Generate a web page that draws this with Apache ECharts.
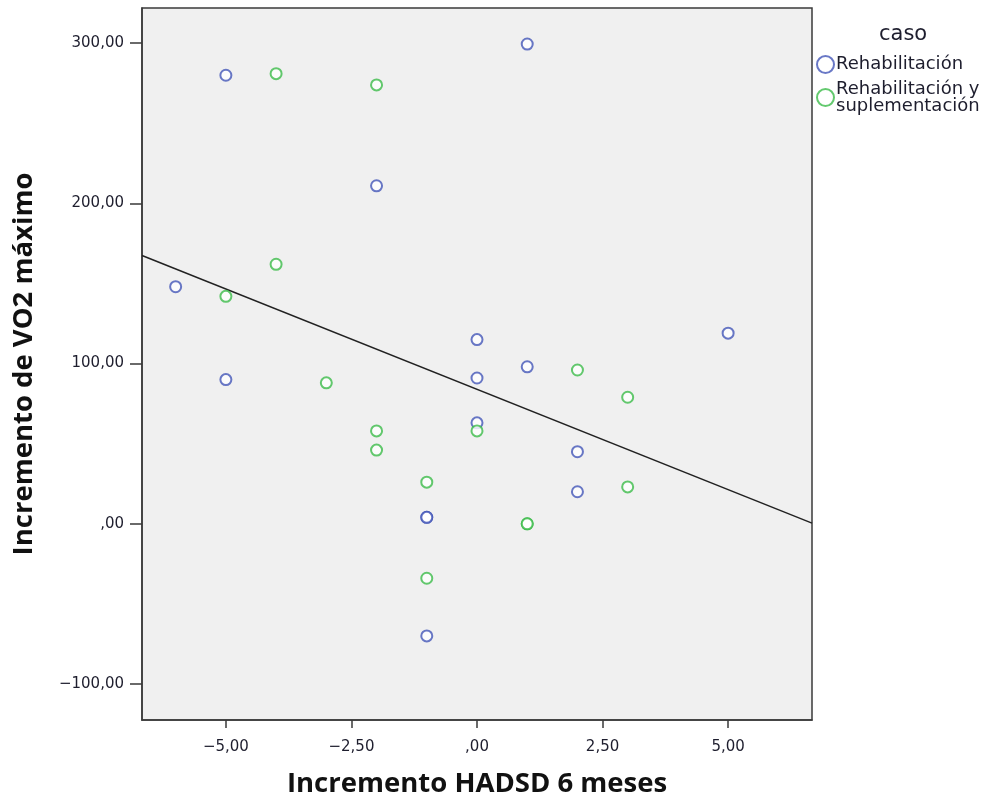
<!DOCTYPE html>
<html>
<head>
<meta charset="utf-8">
<script src="https://cdn.jsdelivr.net/npm/echarts@6/dist/echarts.min.js"></script>
<style>
  html, body { margin: 0; padding: 0; background: #ffffff; }
  #chart { width: 985px; height: 800px; }
</style>
</head>
<body>
<div id="chart"></div>
<script>
// Group labels
const groupRehab = 'Rehabilitación';
const groupRehabSup = 'Rehabilitación y suplementación';

// Incremento HADSD 6 meses (x) / Incremento de VO2 máximo (y)
const rehabX = [-5, 1, -2, -6, -5, 0, 0, 1, 0, 5, 2, 2, -1, -1, -1];
const rehabY = [280, 299.5, 211, 148, 90, 115, 91, 98, 63, 119, 45, 20, 4, 4, -70];

const rehabSupX = [-4, -2, -4, -5, -3, -2, -2, 0, -1, 2, 3, 3, 1, 1, -1];
const rehabSupY = [281, 274, 162, 142, 88, 58, 46, 58, 26, 96, 79, 23, 0, 0, -34];

// Total-sample fit line, end points at the plot edges
const fitX = [-6.67, 6.67];
const fitY = [167.5, 0.4];

// Tick positions
const xTicks = [-5, -2.5, 0, 2.5, 5];
const yTicks = [-100, 0, 100, 200, 300];

const zip = (xs, ys) => xs.map((x, i) => [x, ys[i]]);

// SPSS-style number labels: two decimals, comma separator, no leading zero
function spssFmt(v) {
  const neg = v < 0;
  let s = Math.abs(v).toFixed(2).replace('.', ',');
  if (s.startsWith('0,')) s = s.slice(1);
  return (neg ? '\u2212' : '') + s;
}

const tickFont = { fontFamily: 'DejaVu Sans', fontSize: 15, color: '#1e1e2e' };
const titleFont = { fontFamily: 'Open Sans', fontWeight: 'bold', fontSize: 27.5, color: '#111111' };
const axisColor = '#3a3a3a';

const chart = echarts.init(document.getElementById('chart'), null, { renderer: 'canvas' });

chart.setOption({
  backgroundColor: '#ffffff',
  animation: false,
  grid: {
    left: 142, right: 173, top: 8, bottom: 80,
    outerBoundsMode: 'none', containLabel: false,
    show: true, backgroundColor: '#f0f0f0', borderColor: axisColor, borderWidth: 1.5
  },
  title: {
    text: 'caso', left: 874, top: 19,
    textStyle: { fontFamily: 'DejaVu Sans', fontWeight: 'normal', fontSize: 21, color: '#1e1e2e' }
  },
  legend: {
    orient: 'vertical', left: 811, top: 50,
    itemWidth: 17, itemHeight: 17, itemGap: 6,
    data: [groupRehab, groupRehabSup],
    formatter: n => n === groupRehabSup ? 'Rehabilitación y\nsuplementación' : n,
    textStyle: { fontFamily: 'DejaVu Sans', fontSize: 18, color: '#1e1e2e', lineHeight: 17, padding: [0, 0, 0, -3] }
  },
  xAxis: {
    type: 'value', min: -6.67, max: 6.67,
    name: 'Incremento HADSD 6 meses', nameLocation: 'middle', nameGap: 50,
    nameTextStyle: titleFont,
    axisLine: { show: true, onZero: false, lineStyle: { color: axisColor, width: 1.5 } },
    axisTick: { show: true, length: 8, customValues: xTicks, lineStyle: { color: axisColor, width: 1.5 } },
    axisLabel: { customValues: xTicks, margin: 20, formatter: spssFmt, ...tickFont },
    splitLine: { show: false }
  },
  yAxis: {
    type: 'value', min: -122.5, max: 322,
    name: 'Incremento de VO2 máximo', nameLocation: 'middle', nameGap: 104, nameRotate: 90,
    nameTextStyle: titleFont,
    axisLine: { show: true, onZero: false, lineStyle: { color: axisColor, width: 1.5 } },
    axisTick: { show: true, length: 12, customValues: yTicks, lineStyle: { color: axisColor, width: 1.5 } },
    axisLabel: { customValues: yTicks, margin: 18, formatter: spssFmt, ...tickFont },
    splitLine: { show: false }
  },
  series: [
    {
      name: groupRehab, type: 'scatter', symbol: 'emptyCircle', symbolSize: 11,
      itemStyle: { color: '#4356b8', borderColor: '#4356b8', borderWidth: 1.8 },
      data: zip(rehabX, rehabY), z: 3
    },
    {
      name: groupRehabSup, type: 'scatter', symbol: 'emptyCircle', symbolSize: 11,
      itemStyle: { color: '#3cbc4a', borderColor: '#3cbc4a', borderWidth: 1.8 },
      data: zip(rehabSupX, rehabSupY), z: 3
    },
    {
      name: 'fit', type: 'line', data: zip(fitX, fitY), showSymbol: false, silent: true,
      lineStyle: { color: '#222222', width: 1.5 }, z: 2
    }
  ]
});
</script>
</body>
</html>
